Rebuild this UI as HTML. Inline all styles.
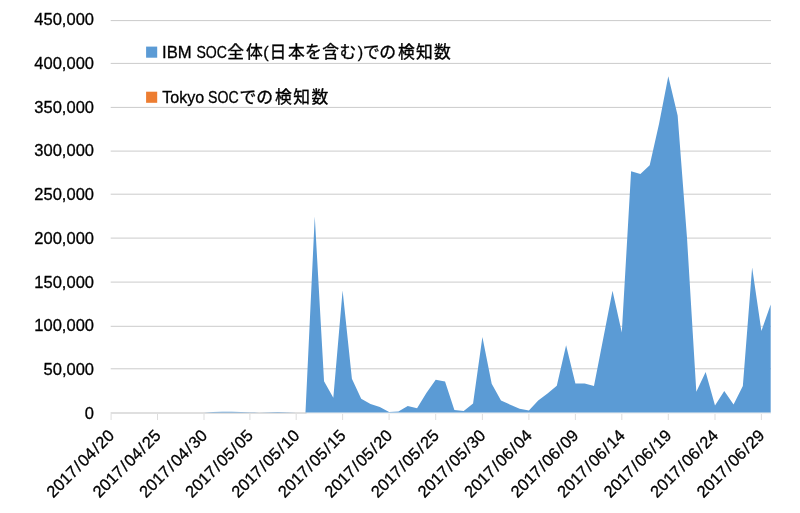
<!DOCTYPE html>
<html lang="ja">
<head>
<meta charset="utf-8">
<title>検知数</title>
<style>
html,body{margin:0;padding:0;background:#fff;}
body{width:800px;height:513px;overflow:hidden;}
svg{display:block;}
text{font-family:"Liberation Sans","Noto Sans CJK JP",sans-serif;fill:#000;stroke:#000;stroke-width:0.3px;}
.ax{font-size:16.5px;}
.lg{font-size:16.2px;stroke-width:0.3px;}
.cj{font-family:"Liberation Sans","Noto Sans CJK JP",sans-serif;font-size:16.8px;stroke-width:0.35px;}
</style>
</head>
<body>
<svg width="800" height="513" viewBox="0 0 800 513">
<rect x="0" y="0" width="800" height="513" fill="#ffffff"/>

<g stroke="#cbcbcb" stroke-width="1" fill="none">
<line x1="110.7" y1="20.60" x2="771" y2="20.60"/>
<line x1="110.7" y1="63.40" x2="771" y2="63.40"/>
<line x1="110.7" y1="107.40" x2="771" y2="107.40"/>
<line x1="110.7" y1="151.10" x2="771" y2="151.10"/>
<line x1="110.7" y1="194.20" x2="771" y2="194.20"/>
<line x1="110.7" y1="238.10" x2="771" y2="238.10"/>
<line x1="110.7" y1="282.10" x2="771" y2="282.10"/>
<line x1="110.7" y1="326.30" x2="771" y2="326.30"/>
<line x1="110.7" y1="368.80" x2="771" y2="368.80"/>
<line x1="110.7" y1="413" x2="771" y2="413" stroke="#e6e6e6"/>
<line x1="110.7" y1="413" x2="306.5" y2="413"/>
<line x1="111.10" y1="414" x2="111.10" y2="420" stroke-width="0.8" stroke="#d4d4d4"/>
<line x1="157.50" y1="414" x2="157.50" y2="420" stroke-width="0.8" stroke="#d4d4d4"/>
<line x1="204.00" y1="414" x2="204.00" y2="420" stroke-width="0.8" stroke="#d4d4d4"/>
<line x1="249.90" y1="414" x2="249.90" y2="420" stroke-width="0.8" stroke="#d4d4d4"/>
<line x1="296.20" y1="414" x2="296.20" y2="420" stroke-width="0.8" stroke="#d4d4d4"/>
<line x1="342.60" y1="414" x2="342.60" y2="420" stroke-width="0.8" stroke="#d4d4d4"/>
<line x1="389.10" y1="414" x2="389.10" y2="420" stroke-width="0.8" stroke="#d4d4d4"/>
<line x1="435.70" y1="414" x2="435.70" y2="420" stroke-width="0.8" stroke="#d4d4d4"/>
<line x1="482.40" y1="414" x2="482.40" y2="420" stroke-width="0.8" stroke="#d4d4d4"/>
<line x1="528.90" y1="414" x2="528.90" y2="420" stroke-width="0.8" stroke="#d4d4d4"/>
<line x1="575.40" y1="414" x2="575.40" y2="420" stroke-width="0.8" stroke="#d4d4d4"/>
<line x1="621.80" y1="414" x2="621.80" y2="420" stroke-width="0.8" stroke="#d4d4d4"/>
<line x1="668.30" y1="414" x2="668.30" y2="420" stroke-width="0.8" stroke="#d4d4d4"/>
<line x1="715.00" y1="414" x2="715.00" y2="420" stroke-width="0.8" stroke="#d4d4d4"/>
<line x1="761.40" y1="414" x2="761.40" y2="420" stroke-width="0.8" stroke="#d4d4d4"/>
</g>
<polygon fill="#5b9bd5" points="194.70,412.40 194.70,412.40 204.00,412.40 213.18,411.90 222.36,411.64 231.54,411.64 240.72,411.90 249.90,412.25 259.16,412.40 268.42,412.34 277.68,411.99 286.94,412.25 296.20,412.40 305.48,412.40 314.76,216.60 324.04,381.24 333.32,397.79 342.60,290.47 351.90,378.80 361.20,398.75 370.50,403.89 379.80,406.94 389.10,412.08 398.42,411.55 407.74,405.98 417.06,408.16 426.38,393.09 435.70,379.76 445.04,381.50 454.38,409.99 463.72,411.12 473.06,403.45 482.40,336.99 491.70,383.68 501.00,400.49 510.30,404.76 519.60,408.77 528.90,410.60 538.20,400.49 547.50,393.44 556.80,385.86 566.10,345.18 575.40,383.42 584.68,383.42 593.96,386.03 603.24,338.56 612.52,290.64 621.80,332.46 631.10,171.22 640.40,174.00 649.70,165.20 659.00,124.00 668.30,76.26 677.64,115.55 686.98,237.51 696.32,391.87 705.66,371.92 715.00,405.54 724.28,391.08 733.56,404.59 742.84,386.12 752.12,267.56 761.40,330.89 770.68,304.58 770.68,412.40"/>
<g class="ax" text-anchor="end">
<text x="94" y="25.00">450,000</text>
<text x="94" y="68.78">400,000</text>
<text x="94" y="112.56">350,000</text>
<text x="94" y="156.34">300,000</text>
<text x="94" y="200.12">250,000</text>
<text x="94" y="243.90">200,000</text>
<text x="94" y="287.68">150,000</text>
<text x="94" y="331.46">100,000</text>
<text x="94" y="375.24">50,000</text>
<text x="94" y="419.02">0</text>
</g>
<g class="ax" text-anchor="end">
<text transform="translate(115.30 436.50) rotate(-45)" x="0" y="0">2017<tspan dx="1.3">/</tspan><tspan dx="1.3">04</tspan><tspan dx="1.3">/</tspan><tspan dx="1.3">20</tspan></text>
<text transform="translate(161.70 436.50) rotate(-45)" x="0" y="0">2017<tspan dx="1.3">/</tspan><tspan dx="1.3">04</tspan><tspan dx="1.3">/</tspan><tspan dx="1.3">25</tspan></text>
<text transform="translate(208.20 436.50) rotate(-45)" x="0" y="0">2017<tspan dx="1.3">/</tspan><tspan dx="1.3">04</tspan><tspan dx="1.3">/</tspan><tspan dx="1.3">30</tspan></text>
<text transform="translate(254.10 436.50) rotate(-45)" x="0" y="0">2017<tspan dx="1.3">/</tspan><tspan dx="1.3">05</tspan><tspan dx="1.3">/</tspan><tspan dx="1.3">05</tspan></text>
<text transform="translate(300.40 436.50) rotate(-45)" x="0" y="0">2017<tspan dx="1.3">/</tspan><tspan dx="1.3">05</tspan><tspan dx="1.3">/</tspan><tspan dx="1.3">10</tspan></text>
<text transform="translate(346.80 436.50) rotate(-45)" x="0" y="0">2017<tspan dx="1.3">/</tspan><tspan dx="1.3">05</tspan><tspan dx="1.3">/</tspan><tspan dx="1.3">15</tspan></text>
<text transform="translate(393.30 436.50) rotate(-45)" x="0" y="0">2017<tspan dx="1.3">/</tspan><tspan dx="1.3">05</tspan><tspan dx="1.3">/</tspan><tspan dx="1.3">20</tspan></text>
<text transform="translate(439.90 436.50) rotate(-45)" x="0" y="0">2017<tspan dx="1.3">/</tspan><tspan dx="1.3">05</tspan><tspan dx="1.3">/</tspan><tspan dx="1.3">25</tspan></text>
<text transform="translate(486.60 436.50) rotate(-45)" x="0" y="0">2017<tspan dx="1.3">/</tspan><tspan dx="1.3">05</tspan><tspan dx="1.3">/</tspan><tspan dx="1.3">30</tspan></text>
<text transform="translate(533.10 436.50) rotate(-45)" x="0" y="0">2017<tspan dx="1.3">/</tspan><tspan dx="1.3">06</tspan><tspan dx="1.3">/</tspan><tspan dx="1.3">04</tspan></text>
<text transform="translate(579.60 436.50) rotate(-45)" x="0" y="0">2017<tspan dx="1.3">/</tspan><tspan dx="1.3">06</tspan><tspan dx="1.3">/</tspan><tspan dx="1.3">09</tspan></text>
<text transform="translate(626.00 436.50) rotate(-45)" x="0" y="0">2017<tspan dx="1.3">/</tspan><tspan dx="1.3">06</tspan><tspan dx="1.3">/</tspan><tspan dx="1.3">14</tspan></text>
<text transform="translate(672.50 436.50) rotate(-45)" x="0" y="0">2017<tspan dx="1.3">/</tspan><tspan dx="1.3">06</tspan><tspan dx="1.3">/</tspan><tspan dx="1.3">19</tspan></text>
<text transform="translate(719.20 436.50) rotate(-45)" x="0" y="0">2017<tspan dx="1.3">/</tspan><tspan dx="1.3">06</tspan><tspan dx="1.3">/</tspan><tspan dx="1.3">24</tspan></text>
<text transform="translate(765.60 436.50) rotate(-45)" x="0" y="0">2017<tspan dx="1.3">/</tspan><tspan dx="1.3">06</tspan><tspan dx="1.3">/</tspan><tspan dx="1.3">29</tspan></text>
</g>
<rect x="146.1" y="46.6" width="11.1" height="11.1" fill="#5b9bd5"/>
<rect x="146.1" y="91.7" width="11.1" height="11.1" fill="#ed7d31"/>
<text class="lg" x="162.0" y="57.8" textLength="29.6" lengthAdjust="spacingAndGlyphs">IBM</text>
<text class="lg" x="196.4" y="57.8" textLength="30.6" lengthAdjust="spacingAndGlyphs">SOC</text>
<text class="cj" x="227.3 246.0" y="57.6">全体</text>
<text class="lg" x="263.2" y="57.8">(</text>
<text class="cj" x="269.5 288.0 305.0 322.2 339.5" y="57.6">日本を含む</text>
<text class="lg" x="357.8" y="57.8">)</text>
<text class="cj" x="363.0 379.2 398.0 416.0 434.0" y="57.6">での検知数</text>
<text class="lg" x="162.3" y="102.9" textLength="42.0" lengthAdjust="spacingAndGlyphs">Tokyo</text>
<text class="lg" x="208.0" y="102.9" textLength="30.6" lengthAdjust="spacingAndGlyphs">SOC</text>
<text class="cj" x="239.6 256.2 275.0 293.2 311.4" y="102.7">での検知数</text>
</svg>
</body>
</html>
